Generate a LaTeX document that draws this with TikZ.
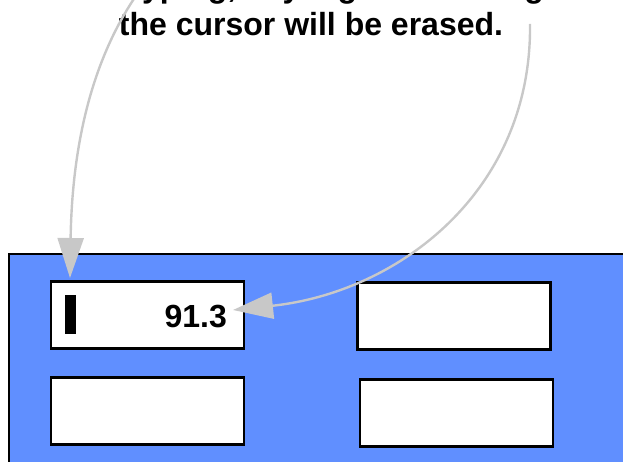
\documentclass[tikz,border=0pt]{standalone}
\usepackage{fontspec}
\setmainfont{Liberation Sans}
\usetikzlibrary{arrows.meta}
\definecolor{panelblue}{RGB}{96,143,255}
\definecolor{arrowgray}{RGB}{200,200,200}
\tikzset{
  field/.style={draw=black, line width=2.6pt, fill=white, minimum width=193pt, minimum height=67pt, inner sep=0pt},
  note/.style={font=\fontsize{32}{36}\selectfont\bfseries, inner sep=0pt, anchor=base},
  pointer/.style={arrowgray, line width=2.4pt, -{Triangle[length=40pt,width=26pt]}},
}
\begin{document}
\begin{tikzpicture}[x=1pt, y=-1pt]
        \clip (0,0) rectangle (623,462);

        % Define panel and fields
        \fill[panelblue, draw=black, line width=2.4pt] (9,254) rectangle (650,490);
        \node[field] (f1) at (147.5,315) {};
        \node[field] (f2) at (454,316) {};
        \node[field] (f3) at (147.5,411) {};
        \node[field] (f4) at (456.5,413) {};
        \node[fill=black, minimum width=11pt, minimum height=39pt, inner sep=0pt] (cursor) at (70.5,314.5) {};
        \node[note, anchor=base east] (value) at (227,327) {91.3};

        % Define note text
        \node[note] (line1) at (311,-2) {On typing, any digits following};
        \node[note] (line2) at (311,36) {the cursor will be erased.};

        % Draw pointers
        \coordinate (from1) at (140,-10);
        \coordinate (to1) at (70,278);
        \coordinate (from2) at (530,24);
        \coordinate (to2) at (233,310);
        \draw[pointer] (from1) .. controls (90,60) and (72,150) .. (to1);
        \draw[pointer] (from2) .. controls (532,190) and (400,292) .. (to2);
    \end{tikzpicture}
\end{document}
